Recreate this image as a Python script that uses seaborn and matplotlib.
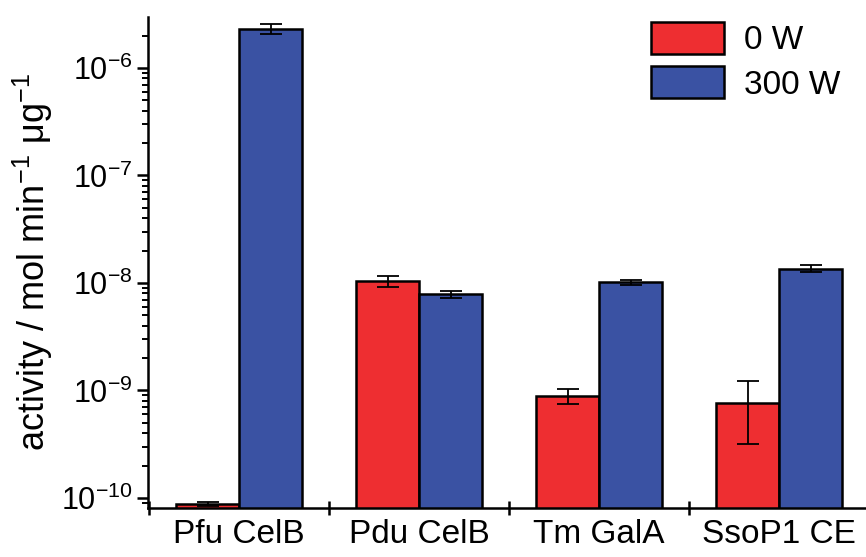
import numpy as np
import pandas as pd
import matplotlib
matplotlib.use("Agg")
import matplotlib.pyplot as plt
import seaborn as sns
from matplotlib.ticker import FixedLocator, NullFormatter, LogFormatterSciNotation

# ---- data ----
categories = ["Pfu CelB", "Pdu CelB", "Tm GalA", "SsoP1 CE"]
power_levels = ["0 W", "300 W"]
activity_0w = [8.8e-11, 1.04e-8, 8.9e-10, 7.7e-10]
activity_300w = [2.31e-6, 7.9e-9, 1.015e-8, 1.36e-8]
err_0w = [0.45e-11, 1.2e-9, 1.4e-10, 4.5e-10]
err_300w = [0.25e-6, 0.6e-9, 0.6e-9, 1.0e-9]
y_decades = [-10, -9, -8, -7, -6]

df = pd.DataFrame({
    "enzyme": categories * 2,
    "power": [power_levels[0]] * 4 + [power_levels[1]] * 4,
    "activity": activity_0w + activity_300w,
})
errors = {power_levels[0]: err_0w, power_levels[1]: err_300w}

sns.set_style("ticks")
plt.rcParams["font.family"] = ["Liberation Sans", "DejaVu Sans"]
plt.rcParams["mathtext.fontset"] = "custom"
plt.rcParams["mathtext.rm"] = "Liberation Sans"
plt.rcParams["mathtext.it"] = "Liberation Sans"
plt.rcParams["mathtext.default"] = "regular"
for k in ["text.color", "axes.labelcolor", "xtick.color", "ytick.color", "axes.edgecolor"]:
    plt.rcParams[k] = "black"

fig = plt.figure(figsize=(8.66, 5.57), dpi=100)
ax = fig.add_axes([148 / 866, 1 - 508 / 557, (866 - 148) / 866, (508 - 17) / 557])

palette = {"0 W": "#ee2e31", "300 W": "#3a52a3"}
sns.barplot(data=df, x="enzyme", y="activity", hue="power", order=categories,
            hue_order=power_levels, palette=palette, width=0.7, gap=0,
            edgecolor="black", linewidth=1.8, saturation=1, errorbar=None, ax=ax)
ax.set_yscale("log")

# error bars from the bar containers
for cont, lvl in zip(ax.containers, power_levels):
    xs = [b.get_x() + b.get_width() / 2 for b in cont]
    ys = [b.get_height() for b in cont]
    ax.errorbar(xs, ys, yerr=errors[lvl], fmt="none", ecolor="black",
                elinewidth=1.3, capsize=8, capthick=1.3, zorder=5)

ymin, ymax = 8.07e-11, 2.98e-6
ax.set_xlim(-0.506, 3.483)
ax.set_ylim(ymin, ymax)

# spines
sns.despine(ax=ax, top=True, right=True)
for s in ["left", "bottom"]:
    ax.spines[s].set_linewidth(1.8)

# y ticks (only inside the visible range)
major = [10.0 ** d for d in y_decades]
minor = [m * 10.0 ** d for d in range(-11, -5) for m in range(2, 10)
         if ymin <= m * 10.0 ** d <= ymax]
ax.yaxis.set_major_locator(FixedLocator(major))
ax.yaxis.set_major_formatter(LogFormatterSciNotation())
ax.yaxis.set_minor_locator(FixedLocator(minor))
ax.yaxis.set_minor_formatter(NullFormatter())
ax.tick_params(axis="y", which="major", direction="out", length=8, width=1.8,
               labelsize=22, pad=3)
ax.tick_params(axis="y", which="minor", direction="out", length=4.5, width=1.4)

# x ticks: labels at groups, marks at boundaries
ax.set_xticks(range(len(categories)))
ax.set_xticklabels(categories)
ax.xaxis.set_minor_locator(FixedLocator([-0.5, 0.5, 1.5, 2.5]))
ax.xaxis.set_minor_formatter(NullFormatter())
ax.tick_params(axis="x", which="major", length=0, labelsize=24, pad=8)
ax.tick_params(axis="x", which="minor", direction="inout", length=10, width=1.8)

ax.set_xlabel("")
ax.set_ylabel("activity / mol min$^{-1}$ \u03bcg$^{-1}$", fontsize=26, labelpad=4)

# legend
handles, labels = ax.get_legend_handles_labels()
for h in handles:
    h.set_edgecolor("black")
    h.set_linewidth(1.8)
ax.legend(handles, labels, loc="upper left", bbox_to_anchor=(651 / 866, 1 - 22 / 557),
          bbox_transform=fig.transFigure, frameon=False, fontsize=24,
          handlelength=2.2, handleheight=1.1, handletextpad=0.6,
          labelspacing=0.3, borderpad=0, borderaxespad=0)

fig.savefig("out.png", dpi=100)
